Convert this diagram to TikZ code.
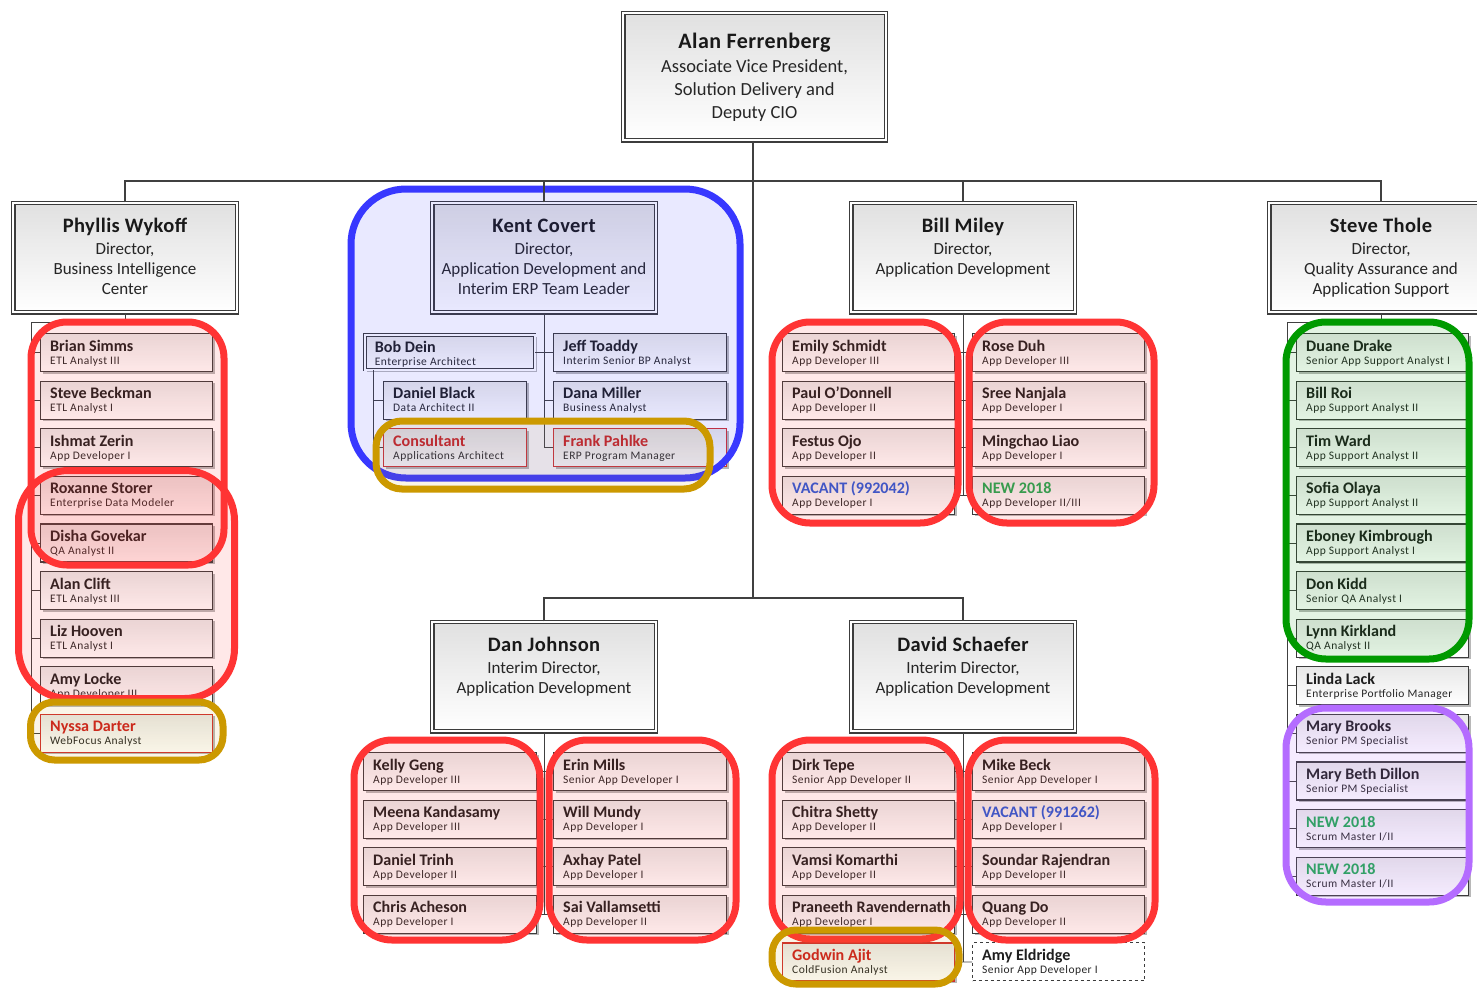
\documentclass[tikz,border=0pt]{standalone}
\usepackage{fontspec}
\setmainfont{Carlito}
\usetikzlibrary{shadows}

\definecolor{boxline}{HTML}{3C3C3C}
\definecolor{linedark}{HTML}{404040}
\definecolor{hlred}{HTML}{FF3434}
\definecolor{hlblue}{HTML}{3838FF}
\definecolor{hlgreen}{HTML}{009A00}
\definecolor{hlpurple}{HTML}{B46CFF}
\definecolor{hlgold}{HTML}{CC9900}
\definecolor{txtred}{HTML}{CC1F1F}
\definecolor{txtblue}{HTML}{2A5BD7}
\definecolor{txtgreen}{HTML}{1FA851}
\definecolor{cardred}{HTML}{D03030}

\tikzset{
  boxshadow/.style={drop shadow={shadow xshift=2pt, shadow yshift=-2pt, opacity=0.28, fill=black}},
  card/.style={draw=boxline, line width=1.1pt, top color=black!9, bottom color=white,
    minimum width=172pt, minimum height=38pt, inner sep=0pt, boxshadow},
  cardwide/.style={card, minimum width=173pt},
  cardnarrow/.style={card, minimum width=143pt},
  redcard/.style={card, draw=cardred},
  rednarrow/.style={redcard, minimum width=143pt},
  redwide/.style={redcard, minimum width=173pt},
  dblcard/.style={card, minimum width=169.6pt, minimum height=34.6pt, line width=0.9pt,
    double=white, double distance=1.6pt},
  dashcard/.style={draw=boxline, line width=1pt, dashed, fill=white,
    minimum width=172pt, minimum height=38pt, inner sep=0pt},
  dirbox/.style={draw=boxline, line width=1.1pt, double=white, double distance=2.3pt,
    top color=black!12, bottom color=white, inner sep=0pt, boxshadow},
  dname/.style={anchor=base, inner sep=0pt, font=\fontsize{20.5}{24}\selectfont\bfseries\addfontfeature{LetterSpace=2}, text=black!90},
  dline/.style={anchor=base, inner sep=0pt, font=\fontsize{17}{20}\selectfont, text=black!85},
  pname/.style={anchor=base west, inner sep=0pt, font=\fontsize{16.1}{19}\selectfont\bfseries, text=black!88},
  prole/.style={anchor=base west, inner sep=0pt, font=\fontsize{11.5}{13}\selectfont\addfontfeature{LetterSpace=4}, text=black!85},
  trunk/.style={draw=linedark, line width=2pt},
  branch/.style={draw=linedark, line width=0.8pt},
  hl/.style={line width=7pt, fill opacity=0.11, rounded corners=#1},
  redhl/.style={hl=#1, draw=hlred, fill=hlred},
  bluehl/.style={hl=#1, draw=hlblue, fill=hlblue},
  greenhl/.style={hl=#1, draw=hlgreen, fill=hlgreen},
  purplehl/.style={hl=#1, draw=hlpurple, fill=hlpurple, fill opacity=0.13},
  goldhl/.style={hl=#1, draw=hlgold, fill=hlgold, fill opacity=0.09},
}

% staff card: [style]{node}{left}{top}{name}{role}
\newcommand\orgcard[6][card]{%
  \node[#1, anchor=north west] (#2) at (#3,#4) {};
  \node[pname] (#2-n) at ([xshift=10pt,yshift=-18pt]#2.north west) {#5};
  \node[prole] (#2-r) at ([xshift=10pt,yshift=-31pt]#2.north west) {#6};}

% director box: {node}{centre x}{top}{name}
\newcommand\director[4]{%
  \node[dirbox, minimum width=223.5pt, minimum height=109.5pt, anchor=north] (#1) at (#2,#3) {};
  \node[dname] (#1-n) at ([yshift=-30pt]#1.north) {#4};}

\begin{document}
\begin{tikzpicture}[x=1pt, y=-1pt]
\useasboundingbox (0,0) rectangle (1477,989);
\fill[white] (0,0) rectangle (1477,989);
\clip (0,0) rectangle (1477,989);

% ---------- top ----------
\node[dirbox, minimum width=262.5pt, minimum height=127.5pt, anchor=north] (alan) at (754.5,12.25) {};
\node[dname, font=\fontsize{22}{25}\selectfont\bfseries\addfontfeature{LetterSpace=2}] (alan-n) at ([yshift=-36pt]alan.north) {Alan Ferrenberg};
\node[dline, font=\fontsize{18.5}{21}\selectfont] (alan-1) at ([yshift=-60pt]alan.north) {Associate Vice President,};
\node[dline, font=\fontsize{18.5}{21}\selectfont] (alan-2) at ([yshift=-83pt]alan.north) {Solution Delivery and};
\node[dline, font=\fontsize{18.5}{21}\selectfont] (alan-3) at ([yshift=-106pt]alan.north) {Deputy CIO};

% ---------- directors ----------
\director{phyl}{125}{202.25}{Phyllis Wykoff}
\node[dline] (phyl-1) at ([yshift=-52pt]phyl.north) {Director,};
\node[dline] (phyl-2) at ([yshift=-72pt]phyl.north) {Business Intelligence};
\node[dline] (phyl-3) at ([yshift=-92pt]phyl.north) {Center};

\director{kent}{544}{202.25}{Kent Covert}
\node[dline] (kent-1) at ([yshift=-52pt]kent.north) {Director,};
\node[dline] (kent-2) at ([yshift=-72pt]kent.north) {Application Development and};
\node[dline] (kent-3) at ([yshift=-92pt]kent.north) {Interim ERP Team Leader};

\director{bill}{963}{202.25}{Bill Miley}
\node[dline] (bill-1) at ([yshift=-52pt]bill.north) {Director,};
\node[dline] (bill-2) at ([yshift=-72pt]bill.north) {Application Development};

\director{steve}{1381}{202.25}{Steve Thole}
\node[dline] (steve-1) at ([yshift=-52pt]steve.north) {Director,};
\node[dline] (steve-2) at ([yshift=-72pt]steve.north) {Quality Assurance and};
\node[dline] (steve-3) at ([yshift=-92pt]steve.north) {Application Support};

\director{dan}{544}{621.25}{Dan Johnson}
\node[dline] (dan-1) at ([yshift=-52pt]dan.north) {Interim Director,};
\node[dline] (dan-2) at ([yshift=-72pt]dan.north) {Application Development};

\director{david}{963}{621.25}{David Schaefer}
\node[dline] (david-1) at ([yshift=-52pt]david.north) {Interim Director,};
\node[dline] (david-2) at ([yshift=-72pt]david.north) {Application Development};

% ---------- Business Intelligence ----------
\orgcard{ph1}{40}{333}{Brian Simms}{ETL Analyst III}
\orgcard{ph2}{40}{380.6}{Steve Beckman}{ETL Analyst I}
\orgcard{ph3}{40}{428.2}{Ishmat Zerin}{App Developer I}
\orgcard{ph4}{40}{475.8}{Roxanne Storer}{Enterprise Data Modeler}
\orgcard{ph5}{40}{523.4}{Disha Govekar}{QA Analyst II}
\orgcard{ph6}{40}{571}{Alan Clift}{ETL Analyst III}
\orgcard{ph7}{40}{618.6}{Liz Hooven}{ETL Analyst I}
\orgcard{ph8}{40}{666.2}{Amy Locke}{App Developer III}
\orgcard[redcard]{ph9}{40}{713.8}{\textcolor{txtred}{Nyssa Darter}}{WebFocus Analyst}

\coordinate (phsp) at (31,322);
\draw[branch] (phyl.south) |- (phsp) -- (phsp |- ph9.west);
\foreach \i in {1,...,9} \draw[branch] (phsp |- ph\i.west) -- (ph\i.west);

% ---------- ERP team ----------
\orgcard[dblcard]{k1}{364.7}{334.7}{Bob Dein}{Enterprise Architect}
\orgcard[cardwide]{k2}{553}{333}{Jeff Toaddy}{Interim Senior BP Analyst}
\orgcard[cardnarrow]{k3}{383}{380.6}{Daniel Black}{Data Architect II}
\orgcard[cardwide]{k4}{553}{380.6}{Dana Miller}{Business Analyst}
\orgcard[rednarrow]{k5}{383}{428.2}{\textcolor{txtred}{Consultant}}{Applications Architect}
\orgcard[redwide]{k6}{553}{428.2}{\textcolor{txtred}{Frank Pahlke}}{ERP Program Manager}

\draw[branch] (kent.south) -- (kent.south |- k6.west) -- (k6.west);
\draw[branch] (k1.east) -- (k2.west);
\draw[branch] (kent.south |- k4.west) -- (k4.west);
\coordinate (bobsp) at (373,0);
\draw[branch] (bobsp |- k1.south) -- (bobsp |- k5.west) -- (k5.west);
\draw[branch] (bobsp |- k3.west) -- (k3.west);

% ---------- Application Development (Miley) ----------
\orgcard{b1}{782}{333}{Emily Schmidt}{App Developer III}
\orgcard{b2}{782}{380.6}{Paul O’Donnell}{App Developer II}
\orgcard{b3}{782}{428.2}{Festus Ojo}{App Developer II}
\orgcard{b4}{782}{475.8}{\textcolor{txtblue}{VACANT (992042)}}{App Developer I}
\orgcard{b5}{972}{333}{Rose Duh}{App Developer III}
\orgcard{b6}{972}{380.6}{Sree Nanjala}{App Developer I}
\orgcard{b7}{972}{428.2}{Mingchao Liao}{App Developer I}
\orgcard{b8}{972}{475.8}{\textcolor{txtgreen}{NEW 2018}}{App Developer II/III}

\draw[branch] (bill.south) -- (bill.south |- b4.east);
\foreach \i/\j in {1/5,2/6,3/7,4/8} \draw[branch] (b\i.east) -- (b\j.west);

% ---------- QA and Application Support ----------
\orgcard{s1}{1296}{333}{Duane Drake}{Senior App Support Analyst I}
\orgcard{s2}{1296}{380.6}{Bill Roi}{App Support Analyst II}
\orgcard{s3}{1296}{428.2}{Tim Ward}{App Support Analyst II}
\orgcard{s4}{1296}{475.8}{Sofia Olaya}{App Support Analyst II}
\orgcard{s5}{1296}{523.4}{Eboney Kimbrough}{App Support Analyst I}
\orgcard{s6}{1296}{571}{Don Kidd}{Senior QA Analyst I}
\orgcard{s7}{1296}{618.6}{Lynn Kirkland}{QA Analyst II}
\orgcard{s8}{1296}{666.2}{Linda Lack}{Enterprise Portfolio Manager}
\orgcard{s9}{1296}{713.8}{Mary Brooks}{Senior PM Specialist}
\orgcard{s10}{1296}{761.4}{Mary Beth Dillon}{Senior PM Specialist}
\orgcard{s11}{1296}{809}{\textcolor{txtgreen}{NEW 2018}}{Scrum Master I/II}
\orgcard{s12}{1296}{856.6}{\textcolor{txtgreen}{NEW 2018}}{Scrum Master I/II}

\coordinate (ssp) at (1287,322);
\draw[branch] (steve.south) |- (ssp) -- (ssp |- s12.west);
\foreach \i in {1,...,12} \draw[branch] (ssp |- s\i.west) -- (s\i.west);

% ---------- Application Development (Johnson) ----------
\orgcard[cardwide]{d1}{363}{752}{Kelly Geng}{App Developer III}
\orgcard[cardwide]{d2}{363}{799.6}{Meena Kandasamy}{App Developer III}
\orgcard[cardwide]{d3}{363}{847.2}{Daniel Trinh}{App Developer II}
\orgcard[cardwide]{d4}{363}{894.8}{Chris Acheson}{App Developer I}
\orgcard[cardwide]{d5}{553}{752}{Erin Mills}{Senior App Developer I}
\orgcard[cardwide]{d6}{553}{799.6}{Will Mundy}{App Developer I}
\orgcard[cardwide]{d7}{553}{847.2}{Axhay Patel}{App Developer I}
\orgcard[cardwide]{d8}{553}{894.8}{Sai Vallamsetti}{App Developer II}

\draw[branch] (dan.south) -- (dan.south |- d4.east);
\foreach \i/\j in {1/5,2/6,3/7,4/8} \draw[branch] (d\i.east) -- (d\j.west);

% ---------- Application Development (Schaefer) ----------
\orgcard{v1}{782}{752}{Dirk Tepe}{Senior App Developer II}
\orgcard{v2}{782}{799.6}{Chitra Shetty}{App Developer II}
\orgcard{v3}{782}{847.2}{Vamsi Komarthi}{App Developer II}
\orgcard{v4}{782}{894.8}{Praneeth Ravendernath}{App Developer I}
\orgcard[redcard]{v5}{782}{942.4}{\textcolor{txtred}{Godwin Ajit}}{ColdFusion Analyst}
\orgcard{v6}{972}{752}{Mike Beck}{Senior App Developer I}
\orgcard{v7}{972}{799.6}{\textcolor{txtblue}{VACANT (991262)}}{App Developer I}
\orgcard{v8}{972}{847.2}{Soundar Rajendran}{App Developer II}
\orgcard{v9}{972}{894.8}{Quang Do}{App Developer II}
\orgcard[dashcard]{v10}{972}{942.4}{Amy Eldridge}{Senior App Developer I}

\draw[branch] (david.south) -- (david.south |- v5.east);
\foreach \i/\j in {1/6,2/7,3/8,4/9,5/10} \draw[branch] (v\i.east) -- (v\j.west);

% ---------- highlight outlines ----------
\draw[redhl=36pt] (31,322) rectangle (224,565);
\draw[redhl=50pt] (18.5,470.5) rectangle (234.5,698.5);
\draw[goldhl=24pt] (30.5,702) rectangle (223,760);

\draw[bluehl=55pt] (351,189) rectangle (740,478);
\draw[goldhl=26pt] (376,421) rectangle (710,489);

\draw[redhl=38pt] (772,322) rectangle (958,523);
\draw[redhl=38pt] (969,322) rectangle (1154,523);

\draw[greenhl=40pt] (1286,322) rectangle (1469,659);
\draw[purplehl=40pt] (1286,708) rectangle (1469,902);

\draw[redhl=38pt] (354,740) rectangle (540,940);
\draw[redhl=38pt] (549,740) rectangle (736,940);

\draw[redhl=38pt] (772,740) rectangle (960,939);
\draw[redhl=38pt] (968,740) rectangle (1155,940);
\draw[goldhl=24pt] (772,930) rectangle (959,984);

% ---------- reporting lines ----------
\coordinate (bar) at (753,181);
\coordinate (bar2) at (753,598);
\draw[trunk] (alan.south -| bar) -- (bar2);
\draw[trunk] (phyl.north) -- (phyl.north |- bar) -- (steve.north |- bar) -- (steve.north);
\draw[trunk] (kent.north) -- (kent.north |- bar);
\draw[trunk] (bill.north) -- (bill.north |- bar);
\draw[trunk] (dan.north) |- (david.north |- bar2) -- (david.north);
\end{tikzpicture}
\end{document}
